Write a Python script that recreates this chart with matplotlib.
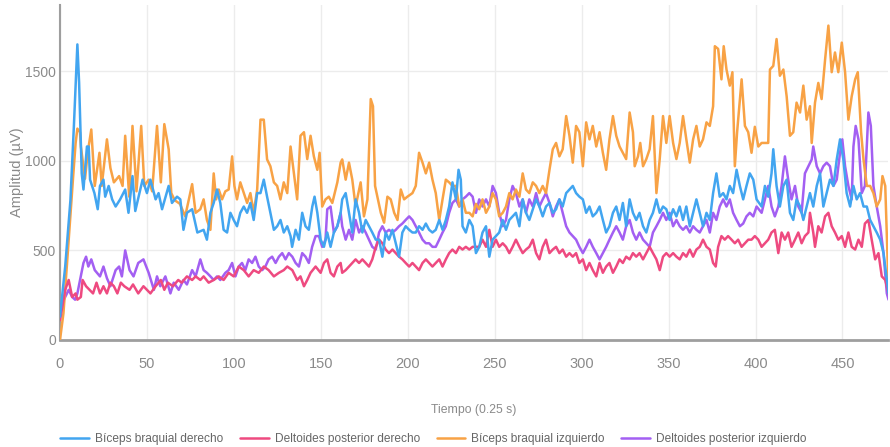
import matplotlib
matplotlib.use("Agg")
import matplotlib.pyplot as plt

# lecturas aproximadas (tiempo en muestras de 0.25 s, amplitud en uV)
t_biceps_der = [0, 3, 6, 8, 10, 11, 12.5, 13.5, 15.5, 16.5, 17.3, 19.8, 21.7, 23, 25, 26, 28, 30, 32, 34.6,
                37.5, 39.4, 41.7, 43.3, 47.5, 50, 52, 55, 56.7, 58.7, 62.5, 64.4, 67.3, 69.2, 71, 73, 76, 79,
                82.6, 84.5, 86.5, 88.4, 90.3, 92.2, 94.1, 96.1, 98, 99.9, 101.8, 103.7, 105.7, 107.6, 109.5,
                111.4, 113.4, 115.3, 117.2, 119.1, 121, 123, 124.9, 126.8, 128.7, 130.7, 132.6, 133.5, 135.5,
                137.4, 139.3, 141.2, 143.1, 145.1, 146.4, 148, 149.9, 151.8, 153.7, 155.6, 157.5, 159.5,
                161.4, 162.3, 164.3, 166.2, 168.1, 170, 172, 173.9, 175.8, 177.7, 179.6, 181.6, 183.5, 185.4,
                187.3, 189.2, 191.2, 193.1, 195, 196.9, 198.8, 200.8, 202.7, 204.6, 206.5, 208.5, 210.4,
                212.3, 214.2, 216.1, 218.1, 220, 221.9, 223.8, 225.7, 227.7, 229.2, 230.5, 231.5, 233.4,
                235.4, 237.3, 239.2, 241.1, 243, 245, 246.9, 248.8, 250.7, 252.6, 254.6, 256.5, 258.4, 260.3,
                262.2, 264.2, 266.1, 268, 269.9, 271.9, 273.8, 275.7, 277.6, 279.5, 281.5, 283.4, 285.3,
                287.2, 289.1, 291.1, 293, 294.9, 296.8, 298.7, 300.7, 302.6, 304.5, 306.4, 308.4, 310.3,
                312.2, 314.1, 316, 318, 319.9, 321.8, 323.7, 325.6, 327.6, 329.5, 331.4, 333.3, 335.3, 337.2,
                339.1, 341, 343, 344.9, 346.8, 348.7, 350.6, 352.6, 354.5, 356.4, 358.3, 360.2, 362.2, 364.1,
                366, 367.9, 369.8, 371.8, 373.7, 375.6, 377.5, 379.4, 381.4, 383.3, 385.2, 387.1, 389.1, 391,
                392.9, 394.8, 396.7, 398.7, 400.6, 403.5, 405.4, 407.3, 409.2, 410.2, 412.1, 414, 416, 417.9,
                419.8, 421.7, 423.6, 425.6, 427.5, 429.4, 431.3, 433.2, 435.2, 437.1, 439, 440.9, 442.8,
                444.8, 446.7, 448.6, 450.5, 452.4, 454.4, 456.3, 458.2, 460.1, 462.1, 464, 465.9, 467.8,
                469.7, 471.7, 473.6, 475.5, 476.5]
biceps_der = [130, 410, 780, 1195, 1650, 1435, 930, 840, 1080, 1080, 895, 820, 730, 860, 895, 800, 860, 785, 745, 785,
              840, 710, 915, 720, 895, 820, 895, 785, 820, 730, 860, 765, 800, 785, 615, 710, 730, 600,
              615, 560, 710, 765, 840, 765, 615, 600, 710, 670, 635, 710, 745, 710, 765,
              670, 820, 820, 895, 800, 710, 615, 635, 670, 600, 635, 580, 520, 615,
              560, 710, 635, 615, 745, 800, 710, 560, 520, 600, 520, 600, 635,
              710, 785, 820, 710, 600, 785, 710, 600, 670, 635, 600, 560, 560, 465,
              600, 560, 615, 540, 465, 600, 635, 615, 600, 600, 635, 615, 650,
              615, 600, 615, 670, 615, 670, 745, 880, 785, 950, 895, 635, 600,
              670, 635, 485, 520, 600, 635, 465, 560, 580, 600, 670, 615, 670, 690,
              710, 635, 785, 710, 670, 730, 785, 745, 690, 745, 765, 710, 730,
              785, 745, 820, 840, 860, 820, 800, 785, 710, 745, 690, 710, 745,
              670, 600, 635, 710, 745, 670, 765, 635, 785, 710, 670, 710, 635, 600,
              670, 710, 785, 710, 745, 730, 670, 730, 690, 745, 670, 745, 635, 710,
              785, 710, 635, 710, 670, 820, 930, 800, 820, 785, 860, 820, 950, 860,
              785, 860, 930, 895, 785, 745, 860, 800, 930, 1065, 860, 745, 860, 895,
              710, 670, 785, 745, 670, 745, 820, 745, 860, 930, 745, 820, 895,
              860, 1008, 1120, 1008, 820, 745, 860, 785, 820, 745, 745, 670, 635,
              600, 560, 485, 335, 260]

t_deltoides_der = [0, 3, 5, 7, 9, 10, 12, 13, 15, 17, 19, 21, 23, 25, 27, 29, 31, 33, 35, 37, 40, 42, 45, 48, 50,
                   52, 55, 58, 60, 62, 65, 68, 70, 73, 76, 78, 80.7, 82.6, 85.5, 88.4, 91.3, 94.1, 97, 99.9,
                   102.8, 105.7, 108.5, 111.4, 114.3, 117.2, 120, 123, 125.9, 128.7, 130.7, 133.6, 136.4,
                   138.3, 140.3, 142.2, 144.1, 147, 149.9, 151.8, 153.7, 155.6, 157.5, 159.5, 161.4, 162.3,
                   164.3, 166.2, 168.1, 170, 172, 173.9, 175.8, 177.7, 179.6, 181.6, 183.5, 185.4, 187.3,
                   189.2, 191.2, 193.1, 195, 196.9, 198.8, 200.8, 202.7, 204.6, 206.5, 208.5, 210.4, 212.3,
                   214.2, 216.1, 218.1, 220, 221.9, 223.8, 225.7, 227.7, 229.6, 231.5, 233.4, 235.4, 237.3,
                   239.2, 241.1, 243, 245, 246.9, 248.8, 250.7, 252.6, 254.6, 256.5, 258.4, 260.3, 262.2,
                   264.2, 266.1, 268, 269.9, 271.9, 273.8, 275.7, 277.6, 279.5, 281.5, 283.4, 285.3, 287.2,
                   289.1, 291.1, 293, 294.9, 296.8, 298.7, 300.7, 302.6, 304.5, 306.4, 308.4, 310.3, 312.2,
                   314.1, 316, 318, 319.9, 321.8, 323.7, 325.6, 327.6, 329.5, 331.4, 333.3, 335.3, 337.2,
                   339.1, 341, 343, 344.9, 346.8, 348.7, 350.6, 352.6, 354.5, 356.4, 358.3, 360.2, 362.2,
                   364.1, 366, 367.9, 369.8, 371.8, 373.7, 375.6, 377.1, 378.5, 380.4, 382.3, 384.2, 386.2,
                   388.1, 390, 392, 393.9, 395.8, 397.7, 399.6, 401.6, 403.5, 405.4, 407.3, 409.2, 411.1,
                   413.1, 415, 416.9, 418.8, 420.7, 422.7, 424.6, 426.5, 428.4, 430.4, 431.3, 433.2, 434.2,
                   436.1, 438, 440, 441.9, 443.8, 445.7, 447.6, 449.6, 451.5, 453.4, 455.3, 457.3, 459.2,
                   461.1, 462.9, 464.9, 466.8, 468.8, 470.7, 472.6, 474.6, 476.5]
deltoides_der = [110, 280, 335, 240, 260, 225, 240, 335, 300, 280, 260, 320, 260, 300, 260, 320, 300, 260, 320, 300,
                 280, 310, 260, 300, 280, 260, 300, 335, 280, 320, 300, 335, 320, 355, 335, 355, 335, 355, 320,
                 335, 355, 335, 375, 355, 410, 390, 355, 390, 375, 410, 390, 355, 375, 390, 410, 390, 335,
                 355, 300, 335, 375, 410, 375, 430, 450, 375, 355, 410, 430, 375, 390, 410, 430, 450, 430,
                 450, 430, 410, 450, 520, 560, 540, 505, 485, 505, 485, 465, 450, 430, 410, 430, 410, 390,
                 430, 450, 430, 410, 430, 450, 410, 450, 485, 505, 485, 520, 505, 520, 505, 520, 520, 520,
                 560, 520, 615, 520, 560, 520, 540, 520, 485, 520, 560, 520, 485, 505, 520, 560, 485, 450,
                 520, 560, 485, 505, 520, 485, 505, 465, 485, 465, 485, 430, 450, 390, 430, 390, 355, 430,
                 375, 410, 430, 375, 410, 450, 430, 465, 450, 485, 465, 485, 450, 485, 520, 485, 450, 390,
                 465, 485, 465, 485, 465, 450, 485, 465, 505, 465, 505, 520, 560, 520, 505, 430, 410, 520,
                 580, 560, 580, 560, 540, 560, 520, 540, 560, 560, 580, 560, 520, 540, 560, 600, 615, 485,
                 600, 560, 600, 520, 560, 600, 540, 580, 600, 710, 600, 520, 635, 600, 690, 710, 635, 600,
                 560, 580, 520, 600, 520, 505, 560, 520, 650, 670, 560, 450, 485, 355, 335, 260]

t_biceps_izq = [0, 2, 4, 6, 7.7, 9, 10, 11.5, 12, 14.4, 16, 18, 20, 22.7, 24, 27, 29, 31, 34, 36, 37.5, 39.8,
                41.7, 44, 46.7, 48.5, 51, 53, 55.8, 58, 60, 62.5, 64, 66, 69, 72, 74, 76, 78, 80.7, 82.6,
                84.5, 86.5, 88.4, 89.8, 91.3, 93.2, 95.1, 97, 99, 100.3, 101.8, 103.7, 105.7, 107.6, 109.5,
                111.4, 113.4, 115.3, 117.2, 119.1, 121, 123, 124.9, 126.8, 128.7, 130.7, 132.6, 134.5,
                136.4, 138.3, 140.3, 142.2, 144.1, 146, 148, 149.3, 150.8, 152.7, 154.6, 156.6, 159.5,
                161.4, 162.3, 164.3, 166.2, 168.1, 170, 171.6, 172.9, 174.8, 176.8, 178.7, 180, 181.2,
                182.5, 184.5, 186.4, 188.3, 190.2, 192.2, 194.1, 196, 197.9, 199.8, 202.7, 204.6, 206.5,
                208.5, 210.4, 212.3, 214.2, 216.1, 218.1, 220, 221.9, 223.8, 225.7, 227.7, 229.6, 231.5,
                233.4, 235.4, 237.3, 239.2, 241.1, 243, 245, 246.9, 248.8, 250.7, 252.6, 254.6, 256.5,
                258.4, 260.3, 262.2, 264.2, 266.1, 268, 269.9, 271.9, 273.8, 275.7, 277.6, 279.5, 281.5,
                283.4, 285.3, 287.2, 289.1, 291.1, 293, 294.9, 296.8, 298.7, 300.7, 302.6, 304.5, 306.4,
                308.4, 310.3, 312.2, 314.1, 316, 318, 319.9, 321.8, 323.7, 325.6, 327.6, 329.5, 330.5,
                332.4, 333.7, 335.3, 337.2, 339.1, 341, 343, 344.9, 346.8, 348.7, 350.6, 352.6, 354.5,
                356.4, 358.3, 360.2, 362.2, 364.1, 366, 367.9, 369.8, 371.8, 373.7, 375.6, 376.6, 378.5,
                380.4, 381.7, 383.3, 385.2, 386.7, 388.1, 389.4, 391, 392, 393.9, 395.8, 397.7, 399.6,
                401.6, 403.5, 405.4, 407.3, 408.3, 410.2, 412.1, 414, 416, 417.9, 419.8, 421.7, 423.6,
                425.6, 427.5, 429.4, 431.3, 432.3, 434.2, 436.1, 438, 440, 441.9, 443.8, 445.7, 447.6,
                449.6, 451.5, 453.4, 455.3, 457.3, 458.8, 460.7, 462.1, 464, 465.9, 467.8, 469.7, 471.7,
                473, 474.6, 476.5]
biceps_izq = [0, 150, 420, 700, 930, 1100, 1180, 1160, 1080, 900, 1050, 1175, 860, 1045, 860, 1120, 960, 880, 915,
              860, 1140, 800, 1195, 830, 1195, 860, 895, 830, 1195, 880, 1205, 1065, 820, 780, 760, 690, 780,
              870, 710, 730, 785, 670, 615, 930, 785, 840, 785, 830, 840, 1025, 860, 785, 880, 820, 765, 820,
              710, 840, 1230, 1230, 1008, 970, 880, 860, 785, 880, 820, 1080, 930,
              785, 1140, 1160, 1010, 1140, 1025, 950, 1045, 745, 785, 800, 765, 880,
              990, 1008, 895, 990, 895, 745, 820, 880, 690, 785, 1345, 1305, 860,
              800, 710, 655, 800, 785, 710, 670, 840, 785, 800, 820, 860, 1045,
              990, 930, 990, 895, 820, 670, 785, 895, 880, 860, 860, 745, 785,
              710, 710, 690, 760, 730, 785, 710, 745, 820, 785, 690, 710, 745,
              820, 785, 840, 800, 930, 840, 820, 880, 860, 820, 860, 820, 950,
              1065, 1100, 1025, 1065, 1250, 1140, 990, 1195, 1160, 970, 1215, 1120, 1195,
              1080, 1160, 1045, 950, 1120, 1250, 1140, 1080, 1045, 1010, 1270, 1160, 970,
              1025, 1100, 970, 1010, 1065, 1250, 820, 1010, 1250, 1100, 1250, 1100, 1010,
              1100, 1250, 1120, 990, 1120, 1195, 1080, 1120, 1215, 1195, 1305, 1640, 1625,
              1455, 1640, 1510, 1420, 1495, 970, 1160, 1345, 1455, 1195, 1160, 1045, 1190,
              1080, 1100, 1100, 1100, 1510, 1530, 1680, 1475, 1510, 1360, 1140, 1160, 1325,
              1270, 1420, 1230, 1305, 1100, 1325, 1435, 1345, 1565, 1755, 1495, 1605, 1495,
              1660, 1495, 1230, 1360, 1455, 1495, 1160, 1008, 860, 860, 820, 745, 785,
              915, 860, 280]

t_deltoides_izq = [0, 2, 5, 7, 8.7, 10, 13.5, 15, 16.3, 18, 20, 23, 25, 27, 29, 32, 34, 35.6, 37.5, 40, 42.3,
                   45, 48, 51, 54, 55.8, 57.7, 60.6, 63.5, 65.4, 68.3, 71, 73, 76, 78, 80.7, 82.6, 84.5, 86.5,
                   88.4, 90.3, 92.2, 95.1, 97, 99, 100.9, 102.8, 104.7, 106.6, 108.5, 110.5, 112.4, 114.3,
                   116.3, 118.1, 120, 122, 124, 125.9, 127.8, 129.7, 131.6, 133.6, 135.5, 137.4, 139.3,
                   141.2, 143.1, 145, 147, 148.9, 150.8, 152.7, 153.7, 155.6, 157.5, 159.5, 161.4, 162.3,
                   164.3, 166.2, 168.1, 170, 172, 173.9, 175.8, 177.7, 179.6, 181.6, 183.5, 185.4, 187.3,
                   189.2, 191.2, 193.1, 195, 196.9, 198.8, 200.8, 202.7, 204.6, 206.5, 208.5, 210.4, 212.3,
                   214.2, 216.1, 218.1, 220, 221.9, 223.8, 225.7, 227.7, 229.6, 231.5, 233.4, 235.4, 237.3,
                   239.2, 241.1, 243, 245, 246.9, 248.8, 250.7, 252.6, 254.6, 256.5, 258.4, 260.3, 262.2,
                   264.2, 266.1, 268, 269.9, 271.9, 273.8, 275.7, 277.6, 279.5, 281.5, 283.4, 285.3, 287.2,
                   289.1, 291.1, 293, 294.9, 296.8, 298.7, 300.7, 302.6, 304.5, 306.4, 308.4, 310.3, 312.2,
                   314.1, 316, 318, 319.9, 321.8, 323.7, 325.6, 327.6, 329.5, 331.4, 333.3, 335.3, 337.2,
                   339.1, 341, 343, 344.9, 346.8, 348.7, 350.6, 352.6, 354.5, 356.4, 358.3, 360.2, 362.2,
                   364.1, 366, 367.9, 369.8, 371.8, 373.7, 375.6, 377.5, 379.4, 381.4, 383.3, 385.2, 387.1,
                   389.1, 391, 392.9, 394.8, 396.7, 398.7, 400.6, 403.5, 405.4, 407.3, 409.2, 411.1, 413.1,
                   415, 416.9, 418.8, 420.7, 422.7, 424.6, 426.5, 428.4, 430.4, 432.3, 433.2, 435.2, 437.1,
                   439, 440.9, 442.8, 444.8, 446.7, 448.6, 449.9, 451.5, 453.4, 455.3, 456.3, 457.6, 459.2,
                   461.1, 462.9, 464.9, 466.3, 467.8, 469.7, 471.7, 473.6, 475.5, 476.5]
deltoides_izq = [170, 220, 280, 240, 225, 260, 430, 465, 410, 450, 390, 355, 410, 345, 300, 390, 410, 355, 500, 390,
                 355, 430, 450, 375, 280, 355, 300, 355, 260, 320, 280, 335, 310, 390, 355, 450, 390, 375, 355,
                 335, 355, 335, 375, 390, 430, 355, 410, 430, 390, 450, 430, 465, 410,
                 390, 410, 450, 465, 430, 465, 485, 450, 485, 465, 430, 410, 485,
                 465, 430, 520, 580, 580, 520, 560, 730, 745, 600, 635, 710, 635,
                 560, 615, 560, 670, 600, 635, 600, 560, 520, 505, 600, 635, 600,
                 615, 600, 615, 635, 650, 670, 690, 670, 635, 600, 560, 540, 540,
                 520, 520, 560, 600, 635, 710, 765, 785, 745, 785, 800, 820, 800,
                 710, 785, 745, 785, 745, 860, 820, 710, 635, 670, 785, 860, 820,
                 745, 785, 710, 785, 745, 820, 745, 785, 820, 765, 690, 745, 785,
                 710, 635, 600, 580, 560, 520, 485, 520, 560, 520, 485, 450, 485,
                 520, 560, 600, 635, 600, 560, 635, 670, 600, 560, 600, 560, 540,
                 520, 600, 635, 670, 710, 670, 710, 635, 670, 635, 615, 635, 600,
                 635, 615, 600, 635, 670, 600, 710, 670, 745, 785, 745, 785, 710,
                 670, 635, 650, 690, 710, 690, 745, 710, 785, 860, 745, 690, 745,
                 860, 1025, 895, 785, 860, 745, 710, 930, 970, 1008, 1080, 970, 930,
                 970, 990, 970, 860, 895, 1045, 1120, 970, 860, 785, 1080, 1195, 1120,
                 820, 860, 1270, 1195, 860, 745, 635, 485, 260, 225]

series = [
    ("Bíceps braquial derecho", t_biceps_der, biceps_der, "#42a5f0"),
    ("Deltoides posterior derecho", t_deltoides_der, deltoides_der, "#ee4a80"),
    ("Bíceps braquial izquierdo", t_biceps_izq, biceps_izq, "#f8a245"),
    ("Deltoides posterior izquierdo", t_deltoides_izq, deltoides_izq, "#a35ff2"),
]

plt.rcParams['font.family'] = ['Liberation Sans', 'DejaVu Sans']

fig = plt.figure(figsize=(8.9, 4.47), dpi=100)
ax = fig.add_axes([0.0674, 0.2394, 0.930, 0.7494])

for i, (name, t, v, c) in enumerate(series):
    ax.plot(t, v, color=c, lw=1.8, label=name, zorder=10 - i,
            solid_joinstyle="round", solid_capstyle="round")

ax.set_xlim(0, 476)
ax.set_ylim(0, 1870)
ax.set_xticks(range(0, 451, 50))
ax.set_yticks([0, 500, 1000, 1500])
ax.grid(True, color="#ececec", lw=1)
ax.set_axisbelow(True)
for s in ["top", "right"]:
    ax.spines[s].set_visible(False)
ax.spines["left"].set_color("#9e9e9e")
ax.spines["left"].set_linewidth(1.5)
ax.spines["bottom"].set_color("#9e9e9e")
ax.spines["bottom"].set_linewidth(2)
ax.tick_params(axis="x", length=0, colors="#8a8a8a", labelsize=10.5, pad=12)
ax.tick_params(axis="y", length=0, colors="#8a8a8a", labelsize=10, pad=3)

ax.set_xlabel("Tiempo (0.25 s)", color="#8a8a8a", fontsize=8.8, labelpad=24)
ax.set_ylabel("Amplitud (µV)", color="#8a8a8a", fontsize=10.5, labelpad=1)

fig.legend(loc="lower center", bbox_to_anchor=(0.487, -0.02), ncol=4, frameon=False,
           fontsize=8.6, labelcolor="#666666", handlelength=2.4, handletextpad=0.5,
           columnspacing=1.4)

fig.savefig("out.png", dpi=100)
